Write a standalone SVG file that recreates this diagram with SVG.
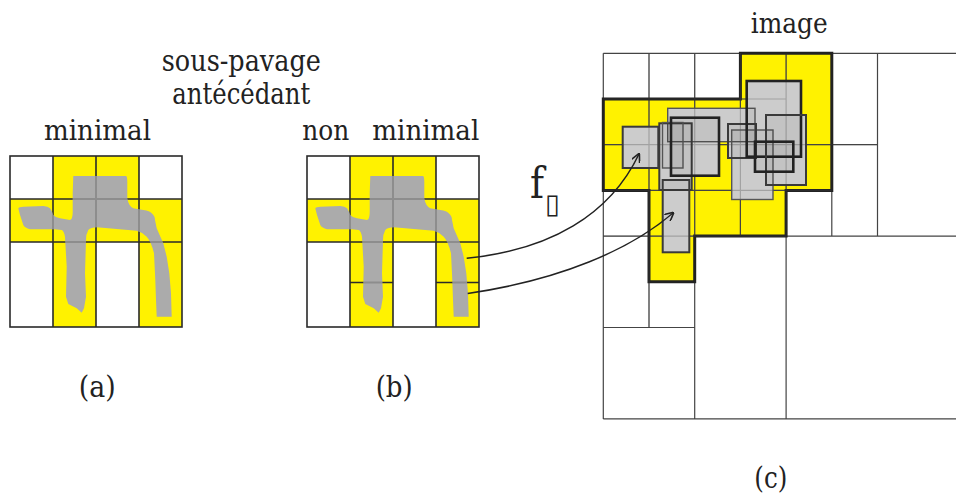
<svg xmlns="http://www.w3.org/2000/svg" width="956" height="497" viewBox="0 0 956 497">
<style>
text{font-family:'DejaVu Serif',serif;fill:#222;}
.lbl{font-size:27px;text-anchor:middle;}
.par{font-size:29px;text-anchor:middle;}
.hdr{font-size:29px;text-anchor:middle;}
.yc{fill:#fff200;stroke:none;}
.gl{stroke:#2a2a2a;stroke-width:1.6;fill:none;}
.gli{stroke:#555;stroke-width:2;fill:none;stroke-opacity:0.35;}
.cg{stroke:#444;stroke-width:1.2;fill:none;}
.cgf{stroke:#444;stroke-width:1.2;fill:none;stroke-opacity:0.3;}
.shape{fill:#ababab;stroke:none;}
.outline{fill:none;stroke:#222;stroke-width:3;stroke-linejoin:miter;}
.base{fill:#d6d6d6;stroke:none;}
.bx{fill:#000;fill-opacity:0.045;stroke:#555;stroke-width:1.4;}
.bxm{fill:#000;fill-opacity:0.045;stroke:#3a3a3a;stroke-width:2;}
.bxk{fill:#000;fill-opacity:0.045;stroke:#222;stroke-width:2.6;}
.conn{fill:none;stroke:#222;stroke-width:1.5;}
</style>
<defs>
<marker id="arr" viewBox="0 0 10 10" refX="9" refY="5" markerWidth="9" markerHeight="9" markerUnits="userSpaceOnUse" orient="auto">
<path d="M0,0 L10,5 L0,10" fill="none" stroke="#222" stroke-width="1.8"/>
</marker>
<path id="glyph" d="M73.3,176 L126,176 Q127.5,176 127.3,185 L127.3,198.3 Q128.5,206 133.3,208.3 L143.3,210 Q150,211 151.7,213.3 Q155,216 155,220 L156.7,228.3 Q160,236 163.3,243.3 L166.7,256.7 L169.3,273.3 L171,293.3 L171.7,316.7 L156.7,316.7 L156,300 L155.3,280 L154,253.3 Q151,241 146.7,236.7 Q142,232 136.7,230.7 L96.7,227.3 Q91,227.5 88.3,230 Q86,234 86,240 L85,273.3 L86,296.7 L84,308.3 L81.7,312.7 L76.7,308.3 L68.3,304 L66,296.7 L66.7,266.7 L65,236.7 Q64,231 61.7,230 L55,229.3 L30,229.3 Q25,228 23.3,225 L20,215 L18.3,208.3 Q19,206.7 23.3,206.7 L43.3,206 Q48,206.5 50,208.3 Q52,211 53.3,215 Q56,218 60,218.3 L70,220 Q72.7,219 72.7,212 L72.7,193.3 Z"/>
<clipPath id="gclip"><use href="#glyph"/></clipPath>
<g id="boxset">
<rect x="667.7" y="108.3" width="87.3" height="33.4"/>
<rect x="622.7" y="126.7" width="35.6" height="41.3"/>
<rect x="659.3" y="123.3" width="32.4" height="66.7"/>
<rect x="671" y="117.7" width="48" height="58"/>
<rect x="662.7" y="180" width="26.6" height="72.3"/>
<rect x="731.7" y="130" width="41.3" height="69.5"/>
<rect x="728" y="124" width="28" height="34"/>
<rect x="746.7" y="81" width="54.3" height="75.7"/>
<rect x="766" y="115" width="40" height="70"/>
<rect x="755" y="141.7" width="38.3" height="30"/>
</g>
</defs>

<g id="labels-top">
<text class="hdr" x="241.3" y="71" textLength="159" lengthAdjust="spacingAndGlyphs">sous-pavage</text>
<text class="hdr" x="241.3" y="104" textLength="138" lengthAdjust="spacingAndGlyphs">antécédant</text>
</g>

<g id="panel-a">
<rect class="yc" x="53" y="156" width="86" height="43"/>
<rect class="yc" x="10" y="199" width="172" height="43"/>
<rect class="yc" x="53" y="242" width="43" height="85"/>
<rect class="yc" x="139" y="242" width="43" height="85"/>
<rect class="gl" x="10" y="156" width="172" height="171"/>
<path class="gl" d="M53,156V327 M96,156V327 M139,156V327 M10,199H182 M10,242H182"/>
<use href="#glyph" class="shape"/>
<path class="gli" clip-path="url(#gclip)" d="M53,156V327 M96,156V327 M139,156V327 M10,199H182 M10,242H182"/>
<text class="lbl" x="97.5" y="140" textLength="107" lengthAdjust="spacingAndGlyphs">minimal</text>
<text class="par" x="97.2" y="397" textLength="37" lengthAdjust="spacingAndGlyphs">(a)</text>
</g>

<g id="panel-b">
<g transform="translate(297,0)">
<rect class="yc" x="53" y="156" width="86" height="43"/>
<rect class="yc" x="10" y="199" width="172" height="43"/>
<rect class="yc" x="53" y="242" width="43" height="85"/>
<rect class="yc" x="139" y="242" width="43" height="85"/>
<rect class="gl" x="10" y="156" width="172" height="171"/>
<path class="gl" d="M53,156V327 M96,156V327 M139,156V327 M10,199H182 M10,242H182 M53,282.5H96 M139,282.5H182"/>
<use href="#glyph" class="shape"/>
<path class="gli" clip-path="url(#gclip)" d="M53,156V327 M96,156V327 M139,156V327 M10,199H182 M10,242H182 M53,282.5H96 M139,282.5H182"/>
</g>
<text class="lbl" x="325.8" y="140" textLength="47" lengthAdjust="spacingAndGlyphs">non</text>
<text class="lbl" x="425.8" y="140" textLength="107" lengthAdjust="spacingAndGlyphs">minimal</text>
<text class="par" x="394.2" y="397" textLength="37" lengthAdjust="spacingAndGlyphs">(b)</text>
</g>

<g id="panel-c">
<path class="yc" d="M603.3,99 H740.4 V53.3 H831.8 V190.4 H786.1 V236.1 H694.7 V281.8 H649 V190.4 H603.3 Z"/>
<path id="cgrid" class="cg" d="M603.3,53.3 H968.9 M603.3,53.3 V418.9 M603.3,418.9 H968.9 M603.3,236.1 H968.9 M786.1,53.3 V418.9
M649,53.3 V236.1 M694.7,53.3 V236.1 M740.4,53.3 V236.1 M603.3,99 H786.1 M603.3,144.7 H786.1 M603.3,190.4 H786.1
M831.8,53.3 V236.1 M877.5,53.3 V236.1 M786.1,144.7 H877.5 M786.1,190.4 H831.8
M649,236.1 V327.5 M694.7,236.1 V418.9 M603.3,327.5 H694.7 M649,281.8 H694.7"/>
<path class="outline" d="M603.3,99 H740.4 V53.3 H831.8 V190.4 H786.1 V236.1 H694.7 V281.8 H649 V190.4 H603.3 Z"/>
<g id="boxes">
<use href="#boxset" class="base"/>
<path class="cgf" d="M603.3,99 H786.1 M603.3,144.7 H877.5 M603.3,190.4 H831.8 M649,53.3 V327.5 M694.7,53.3 V236.1 M740.4,53.3 V236.1 M786.1,53.3 V236.1 M603.3,236.1 H786.1"/>
<rect class="bx" x="667.7" y="108.3" width="87.3" height="33.4"/>
<rect class="bxm" x="622.7" y="126.7" width="35.6" height="41.3"/>
<rect class="bxm" x="659.3" y="123.3" width="32.4" height="66.7"/>
<rect class="bx" x="662.5" y="122.5" width="20.5" height="45.5"/>
<rect class="bxk" x="671" y="117.7" width="48" height="58"/>
<rect class="bxm" x="662.7" y="180" width="26.6" height="72.3"/>
<rect class="bx" x="731.7" y="130" width="41.3" height="69.5"/>
<rect class="bxm" x="728" y="124" width="28" height="34"/>
<rect class="bxk" x="746.7" y="81" width="54.3" height="75.7"/>
<rect class="bxm" x="766" y="115" width="40" height="70"/>
<rect class="bxk" x="755" y="141.7" width="38.3" height="30"/>
</g>
<text class="lbl" x="789.2" y="33" textLength="77" lengthAdjust="spacingAndGlyphs">image</text>
<text class="par" x="770.8" y="488" textLength="33" lengthAdjust="spacingAndGlyphs">(c)</text>
</g>

<g id="connectors">
<path class="conn" d="M466.7,258.3 C550,250 610,215 639,154" marker-end="url(#arr)"/>
<path class="conn" d="M467.7,293.5 C560,280 630,250 673.3,212.7" marker-end="url(#arr)"/>
<text x="530" y="198" font-size="42" textLength="14" lengthAdjust="spacingAndGlyphs">f</text>
<text x="545" y="213" style="font-family:'DejaVu Sans',sans-serif" font-size="27">▯</text>
</g>
</svg>
